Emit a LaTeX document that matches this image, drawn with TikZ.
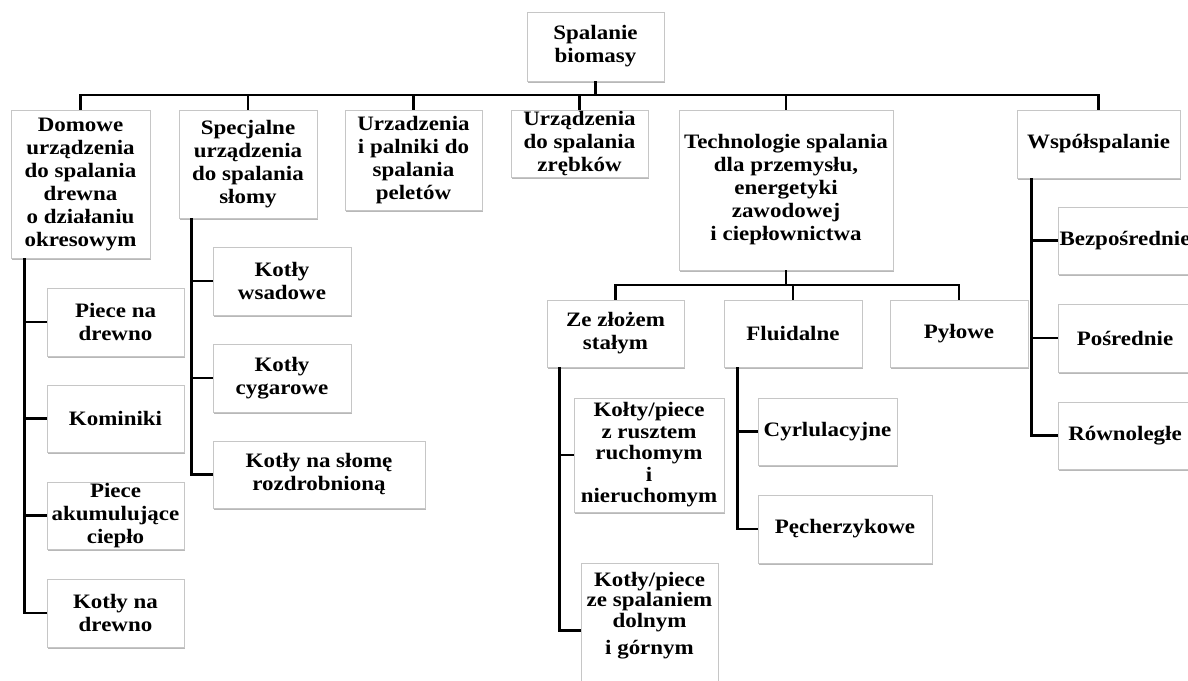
\documentclass[tikz,border=0pt]{standalone}
\usepackage{fontspec}
\setmainfont{Liberation Serif}[FakeStretch=1.12]
\usetikzlibrary{shadows}
\begin{document}
\begin{tikzpicture}[x=1pt,y=-1pt,
  box/.style={draw=gray!45, line width=0.8pt, fill=white, align=center, inner sep=1pt,
    font=\bfseries\fontsize{20.5}{23}\selectfont,
    drop shadow={shadow xshift=1.2pt, shadow yshift=-1.8pt, fill=black, opacity=0.28}},
  txt/.style={align=center, inner sep=0pt, font=\bfseries\fontsize{20.5}{23}\selectfont},
  conn/.style={line width=2.8pt, black, line join=miter}
]
\useasboundingbox[fill=white] (0,0) rectangle (1188,680);

% root
\node[box, minimum width=137pt, minimum height=69pt] (root) at (595.5,46.5) {Spalanie\\biomasy};

% level 1
\node[box, minimum width=139pt, minimum height=148pt] (dom) at (80.5,184) {Domowe\\urządzenia\\do spalania\\drewna\\o działaniu\\okresowym};
\node[box, minimum width=138pt, minimum height=108pt] (spec) at (248,164) {Specjalne\\urządzenia\\do spalania\\słomy};
\node[box, minimum width=137pt, minimum height=100pt] (pel) at (413.5,160) {Urzadzenia\\i palniki do\\spalania\\peletów};
\node[box, minimum width=137pt, minimum height=67pt] (zreb) at (579.5,143.5) {Urządzenia\\do spalania\\zrębków};
\node[box, minimum width=214pt, minimum height=160pt] (tech) at (786,190) {Technologie spalania\\dla przemysłu,\\energetyki\\zawodowej\\i ciepłownictwa};
\node[box, minimum width=163pt, minimum height=68pt] (wsp) at (1098.5,144) {Współspalanie};

% Domowe children
\node[box, minimum width=137pt, minimum height=68pt] (d1) at (115.5,322) {Piece na\\drewno};
\node[box, minimum width=137pt, minimum height=67pt] (d2) at (115.5,418.5) {Kominiki};
\node[box, minimum width=137pt, minimum height=67pt] (d3) at (115.5,515.5) {Piece\\akumulujące\\ciepło};
\node[box, minimum width=137pt, minimum height=68pt] (d4) at (115.5,613) {Kotły na\\drewno};

% Specjalne children
\node[box, minimum width=138pt, minimum height=68pt] (s1) at (282,281) {Kotły\\wsadowe};
\node[box, minimum width=138pt, minimum height=68pt] (s2) at (282,378) {Kotły\\cygarowe};
\node[box, minimum width=212pt, minimum height=67pt] (s3) at (319,474.5) {Kotły na słomę\\rozdrobnioną};

% Technologie children
\node[box, minimum width=137pt, minimum height=67pt] (zl) at (615.5,333.5) {Ze złożem\\stałym};
\node[box, minimum width=138pt, minimum height=67pt] (flu) at (793,333.5) {Fluidalne};
\node[box, minimum width=138pt, minimum height=67pt] (pyl) at (959,333.5) {Pyłowe};

% Ze zlozem children
\node[box, minimum width=150pt, minimum height=114pt, font=\bfseries\fontsize{20.5}{21.5}\selectfont] (k1) at (649,455) {Kołty/piece\\z rusztem\\ruchomym\\i\\nieruchomym};
\node[box, minimum width=137pt, minimum height=160pt] (k2) at (649.5,643) {};
\node[txt, anchor=north, font=\bfseries\fontsize{20.5}{20.5}\selectfont] (k2t) at ([yshift=-9pt]k2.north) {Kotły/piece\\ze spalaniem\\dolnym\\[7pt]i górnym};

% Fluidalne children
\node[box, minimum width=139pt, minimum height=67pt] (f1) at (827.5,431.5) {Cyrlulacyjne};
\node[box, minimum width=174pt, minimum height=68pt] (f2) at (845,529) {Pęcherzykowe};

% Wspolspalanie children
\node[box, minimum width=134pt, minimum height=67pt] (w1) at (1125,240.5) {Bezpośrednie};
\node[box, minimum width=134pt, minimum height=68pt] (w2) at (1125,338) {Pośrednie};
\node[box, minimum width=134pt, minimum height=67pt] (w3) at (1125,435.5) {Równoległe};

% top bus
\coordinate (bus) at (0,95);
\draw[conn] (root.south) -- (root.south |- bus);
\draw[conn] (dom.north) -- (dom.north |- bus) -- (wsp.north |- bus) -- (wsp.north);
\foreach \n in {spec,pel,zreb,tech} \draw[conn] (\n.north) -- (\n.north |- bus);

% technologie bus
\coordinate (tbus) at (0,285);
\draw[conn] (tech.south) -- (tech.south |- tbus);
\draw[conn] (zl.north) -- (zl.north |- tbus) -- (pyl.north |- tbus) -- (pyl.north);
\draw[conn] (flu.north) -- (flu.north |- tbus);

% Domowe branch
\coordinate (dv) at ([xshift=14pt]dom.south west);
\draw[conn] (dv) |- (d4.west);
\foreach \n in {d1,d2,d3} \draw[conn] (dv |- \n.west) -- (\n.west);

% Specjalne branch
\coordinate (sv) at ([xshift=13pt]spec.south west);
\draw[conn] (sv) |- (s3.west);
\foreach \n in {s1,s2} \draw[conn] (sv |- \n.west) -- (\n.west);

% Ze zlozem branch
\coordinate (zv) at ([xshift=13pt]zl.south west);
\draw[conn] (zv) |- ([yshift=-68pt]k2.north west);
\draw[conn] (zv |- k1.west) -- (k1.west);

% Fluidalne branch
\coordinate (fv) at ([xshift=14pt]flu.south west);
\draw[conn] (fv) |- (f2.west);
\draw[conn] (fv |- f1.west) -- (f1.west);

% Wspolspalanie branch
\coordinate (wv) at ([xshift=15pt]wsp.south west);
\draw[conn] (wv) |- (w3.west);
\foreach \n in {w1,w2} \draw[conn] (wv |- \n.west) -- (\n.west);
\end{tikzpicture}
\end{document}
